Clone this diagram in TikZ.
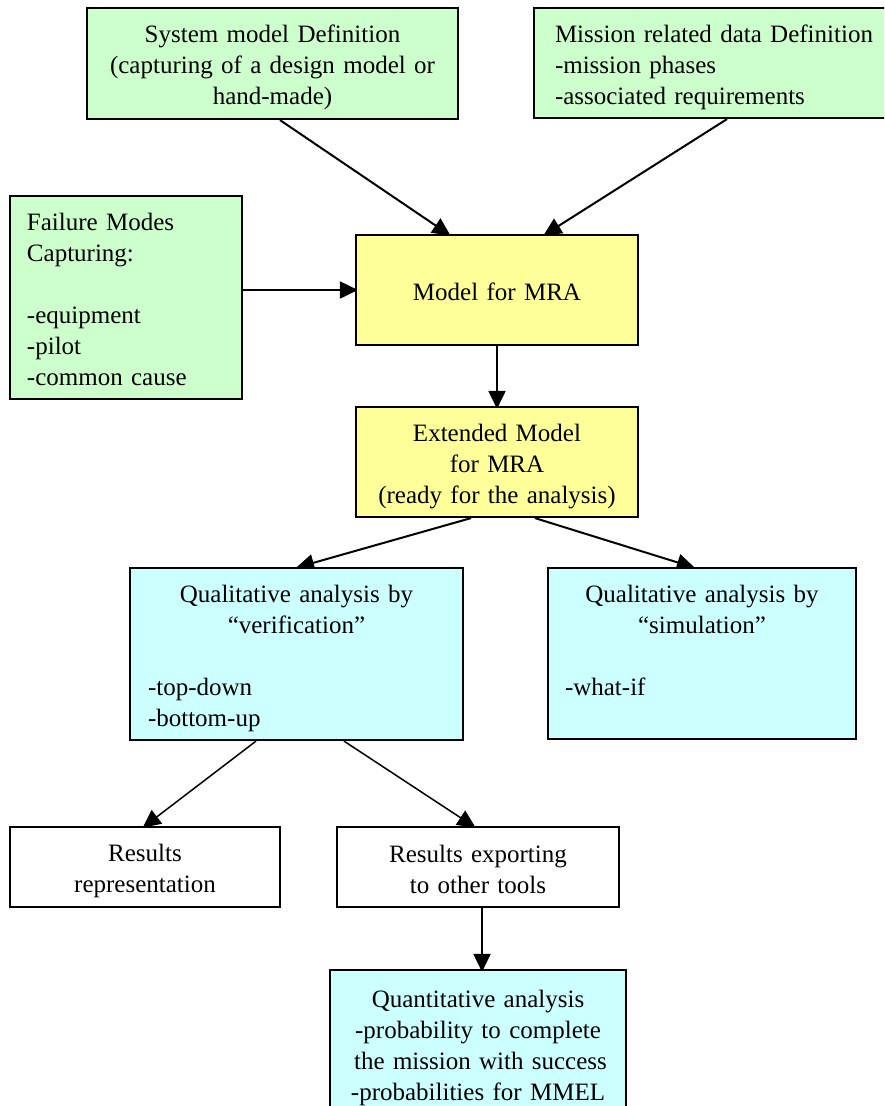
\documentclass[tikz,border=0pt]{standalone}
\usepackage{fontspec}
\setmainfont{Liberation Serif}
\usetikzlibrary{arrows.meta}
\pgfdeclarelayer{background}
\pgfsetlayers{background,main}
\definecolor{boxgreen}{HTML}{CCFFCC}
\definecolor{boxyellow}{HTML}{FFFF99}
\definecolor{boxcyan}{HTML}{CCFFFF}
\newcommand{\topstrut}{\rule{0pt}{26pt}}
\newcommand{\botstrut}{\rule[-5pt]{0pt}{5pt}}
\tikzset{
  box/.style={draw=black, line width=2.2pt, inner sep=0pt,
    font=\fontsize{25}{31}\selectfont,
    execute at begin node=\topstrut, execute at end node=\botstrut},
  conn/.style={line width=2pt, -{Triangle[length=18pt,width=17pt]}, shorten >=-3pt},
  thinconn/.style={conn, line width=1.5pt},
}
\begin{document}
\begin{tikzpicture}[x=1pt,y=-1pt]
\useasboundingbox (0,0) rectangle (884,1106);
\clip (0,0) rectangle (884,1106);

\node[box, fill=boxgreen, minimum width=371pt, minimum height=111pt, text width=340pt, align=center]
  (sysdef) at (272.5,63.5) {System model Definition\\(capturing of a design model or\\hand-made)};
\node[box, fill=boxgreen, minimum height=110pt, inner xsep=21pt, text width=344pt, align=left]
  (mission) at (727,63) {Mission related data Definition\\-mission phases\\-associated requirements};
\node[box, fill=boxgreen, minimum width=232pt, minimum height=203pt, inner xsep=17pt, text width=198pt, align=left]
  (failure) at (126,297.5) {Failure Modes\\Capturing:\\\mbox{}\\-equipment\\-pilot\\-common cause};
\node[box, fill=boxyellow, minimum width=282pt, minimum height=110pt, text width=260pt, align=center]
  (model) at (497,290) {Model for MRA};
\node[box, fill=boxyellow, minimum width=282pt, minimum height=110pt, text width=270pt, align=center]
  (ext) at (497,462) {Extended Model\\for MRA\\(ready for the analysis)};
\node[box, fill=boxcyan, minimum width=333pt, minimum height=172pt, inner xsep=18pt, text width=297pt]
  (qver) at (296.5,654) {\centering Qualitative analysis by\\“verification”\\\mbox{}\par
  \raggedright -top-down\\-bottom-up};
\node[box, fill=boxcyan, minimum width=308pt, minimum height=171pt, inner xsep=17pt, text width=274pt]
  (qsim) at (702,653.5) {\centering Qualitative analysis by\\“simulation”\\\mbox{}\par
  \raggedright -what-if\\\mbox{}};
\node[box, fill=white, minimum width=270pt, minimum height=80pt, text width=250pt, align=center]
  (rrep) at (145,867) {Results\\representation};
\node[box, fill=white, minimum width=282pt, minimum height=80pt, text width=260pt, align=center]
  (rexp) at (478,867) {Results exporting\\to other tools};
\node[box, fill=boxcyan, minimum width=296pt, minimum height=148pt, text width=285pt, align=center]
  (quant) at (478,1044) {Quantitative analysis\\-probability to complete\\\hspace*{0.2em}the mission with success\\-probabilities for MMEL};

\begin{pgfonlayer}{background}
\draw[conn] ([xshift=7.5pt]sysdef.south) -- ([xshift=-49pt]model.north);
\draw[conn] (mission.south) -- ([xshift=49pt]model.north);
\draw[conn] (failure.east |- model.west) -- (model.west);
\draw[conn] (model.south) -- (ext.north);
\draw[conn] ([xshift=-26pt]ext.south) -- ([xshift=2.5pt]qver.north);
\draw[conn] ([xshift=38pt]ext.south) -- ([xshift=-10pt]qsim.north);
\draw[thinconn] ([xshift=-40.5pt]qver.south) -- (rrep.north);
\draw[thinconn] ([xshift=47.5pt]qver.south) -- ([xshift=-5pt]rexp.north);
\draw[conn] ([xshift=4pt]rexp.south) -- ([xshift=4pt]quant.north);
\end{pgfonlayer}
\end{tikzpicture}
\end{document}
